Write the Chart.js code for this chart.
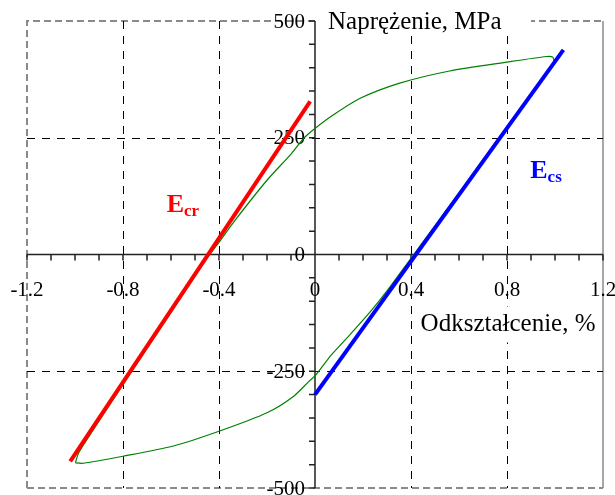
<!DOCTYPE html>
<html>
<head>
<meta charset="utf-8">
<script src="https://cdn.jsdelivr.net/npm/chart.js@4.4.1/dist/chart.umd.min.js"></script>
<style>
  html, body { margin: 0; padding: 0; background: #fff; }
  #wrap { width: 615px; height: 495px; }
</style>
</head>
<body>
<div id="wrap"><canvas id="c" width="615" height="495"></canvas></div>
<script>
// Hysteresis loop: loading branch (strain %, stress MPa)
const loadStrain = [-0.998, -0.985, -0.95, -0.8, -0.6, -0.45, -0.397, -0.335, -0.2, -0.1, -0.043, 0, 0.074, 0.186, 0.353, 0.561, 0.8, 0.964, 0.99];
const loadStress = [-445, -425, -396, -278, -124, -8, 28, 72, 159, 215, 251, 270, 298, 334, 367, 393, 412, 424, 423];
// Unloading branch
const unloadStrain = [0.995, 0.97, 0.9, 0.8, 0.6, 0.5, 0.4, 0.3, 0.228, 0.145, 0.07, 0.02, 0, -0.022, -0.09, -0.2, -0.397, -0.59, -0.8, -0.966, -0.997, -0.998];
const unloadStress = [413, 394, 344, 274, 132, 62, -8, -78, -124, -172, -214, -247, -260, -270, -304, -339, -378, -410, -432, -447, -446, -445];
// Modulus lines E_cr and E_cs
const ecrStrain = [-1.02, -0.02];
const ecrStress = [-443, 328];
const ecsStrain = [0, 1.035];
const ecsStress = [-300, 438];
// Axis ticks
const xTicks = [-1.2, -0.8, -0.4, 0, 0.4, 0.8, 1.2];
const xTickLabels = ['-1.2', '-0.8', '-0.4', '0', '0.4', '0.8', '1.2'];
const yTicks = [-500, -250, 0, 250, 500];
const yTickLabels = ['-500', '-250', '0', '250', '500'];
const xGrid = [-0.8, -0.4, 0.4, 0.8];
const yGrid = [-250, 250];

const pts = (xs, ys) => xs.map((x, i) => ({ x: x, y: ys[i] }));
const loop = pts(loadStrain, loadStress).concat(pts(unloadStrain, unloadStress));

const SERIF = '"Liberation Serif", "Times New Roman", serif';

const axesPlugin = {
  id: 'crossAxes',
  beforeDatasetsDraw(chart) {
    const ctx = chart.ctx;
    const xs = chart.scales.x, ys = chart.scales.y;
    const a = chart.chartArea;
    const x0 = xs.getPixelForValue(0), y0 = ys.getPixelForValue(0);
    ctx.save();
    // outer frame
    ctx.strokeStyle = '#8a8a8a';
    ctx.lineWidth = 2;
    ctx.setLineDash([7, 4]);
    ctx.beginPath();
    ctx.moveTo(a.left, a.bottom); ctx.lineTo(a.left, a.top); ctx.lineTo(a.right, a.top);
    ctx.moveTo(a.left, a.bottom); ctx.lineTo(a.right, a.bottom);
    ctx.stroke();
    ctx.setLineDash([]);
    ctx.lineWidth = 1.5;
    ctx.beginPath();
    ctx.moveTo(a.right, a.top); ctx.lineTo(a.right, a.bottom);
    ctx.stroke();
    // dashed grid
    ctx.strokeStyle = '#000';
    ctx.lineWidth = 1;
    ctx.setLineDash([8, 7]);
    ctx.beginPath();
    xGrid.forEach(v => { const p = Math.round(xs.getPixelForValue(v)) + 0.5; ctx.moveTo(p, a.top); ctx.lineTo(p, a.bottom); });
    yGrid.forEach(v => { const p = Math.round(ys.getPixelForValue(v)) + 0.5; ctx.moveTo(a.left, p); ctx.lineTo(a.right, p); });
    ctx.stroke();
    ctx.setLineDash([]);
    // axes through origin
    ctx.strokeStyle = '#222';
    ctx.lineWidth = 1.5;
    ctx.beginPath();
    ctx.moveTo(a.left, y0); ctx.lineTo(a.right, y0);
    ctx.moveTo(x0, a.top); ctx.lineTo(x0, a.bottom);
    // minor/major tick marks
    for (let i = -12; i <= 12; i++) {
      const p = xs.getPixelForValue(i / 10);
      ctx.moveTo(p, y0); ctx.lineTo(p, y0 + 6);
    }
    for (let i = -10; i <= 10; i++) {
      const p = ys.getPixelForValue(i * 50);
      ctx.moveTo(x0, p); ctx.lineTo(x0 - 6, p);
    }
    ctx.stroke();
    // tick labels
    ctx.fillStyle = '#000';
    ctx.font = '21px ' + SERIF;
    ctx.textAlign = 'center';
    ctx.textBaseline = 'top';
    xTicks.forEach((v, i) => ctx.fillText(xTickLabels[i], xs.getPixelForValue(v), y0 + 25));
    ctx.textAlign = 'right';
    ctx.textBaseline = 'middle';
    yTicks.forEach((v, i) => ctx.fillText(yTickLabels[i], x0 - 10, ys.getPixelForValue(v) + 1));
    // axis titles on white boxes
    ctx.fillStyle = '#fff';
    ctx.fillRect(x0 + 3, a.top - 14, 213, 26);
    ctx.fillRect(xs.getPixelForValue(0.42), y0 + 52, 185, 36);
    ctx.fillStyle = '#000';
    ctx.font = '25px ' + SERIF;
    ctx.textAlign = 'left';
    ctx.textBaseline = 'alphabetic';
    ctx.fillText('Naprężenie, MPa', x0 + 13, a.top + 8);
    ctx.fillText('Odkształcenie, %', xs.getPixelForValue(0.44), y0 + 76);
    ctx.restore();
  },
  afterDatasetsDraw(chart) {
    const ctx = chart.ctx;
    const xs = chart.scales.x, ys = chart.scales.y;
    const label = (main, sub, x, y, color) => {
      ctx.fillStyle = color;
      ctx.textAlign = 'left';
      ctx.textBaseline = 'alphabetic';
      ctx.font = 'bold 26px ' + SERIF;
      ctx.fillText(main, x, y);
      const w = ctx.measureText(main).width;
      ctx.font = 'bold 17px ' + SERIF;
      ctx.fillText(sub, x + w, y + 4);
    };
    ctx.save();
    label('E', 'cr', xs.getPixelForValue(-0.618), ys.getPixelForValue(90), '#ff0000');
    label('E', 'cs', xs.getPixelForValue(0.897), ys.getPixelForValue(163), '#0000ff');
    ctx.restore();
  }
};

new Chart(document.getElementById('c'), {
  type: 'scatter',
  data: {
    datasets: [
      { data: pts(ecrStrain, ecrStress), showLine: true, borderColor: '#ff0000', borderWidth: 4, pointRadius: 0, borderCapStyle: 'butt' },
      { data: pts(ecsStrain, ecsStress), showLine: true, borderColor: '#0000ff', borderWidth: 4, pointRadius: 0, borderCapStyle: 'butt' },
      { data: loop, showLine: true, borderColor: '#008000', borderWidth: 1.2, pointRadius: 0, tension: 0.25 }
    ]
  },
  options: {
    responsive: false,
    animation: false,
    layout: { padding: { left: 27, right: 12, top: 21, bottom: 7 } },
    plugins: { legend: { display: false }, tooltip: { enabled: false } },
    scales: {
      x: { type: 'linear', min: -1.2, max: 1.2, display: false },
      y: { type: 'linear', min: -500, max: 500, display: false }
    }
  },
  plugins: [axesPlugin]
});
</script>
</body>
</html>
